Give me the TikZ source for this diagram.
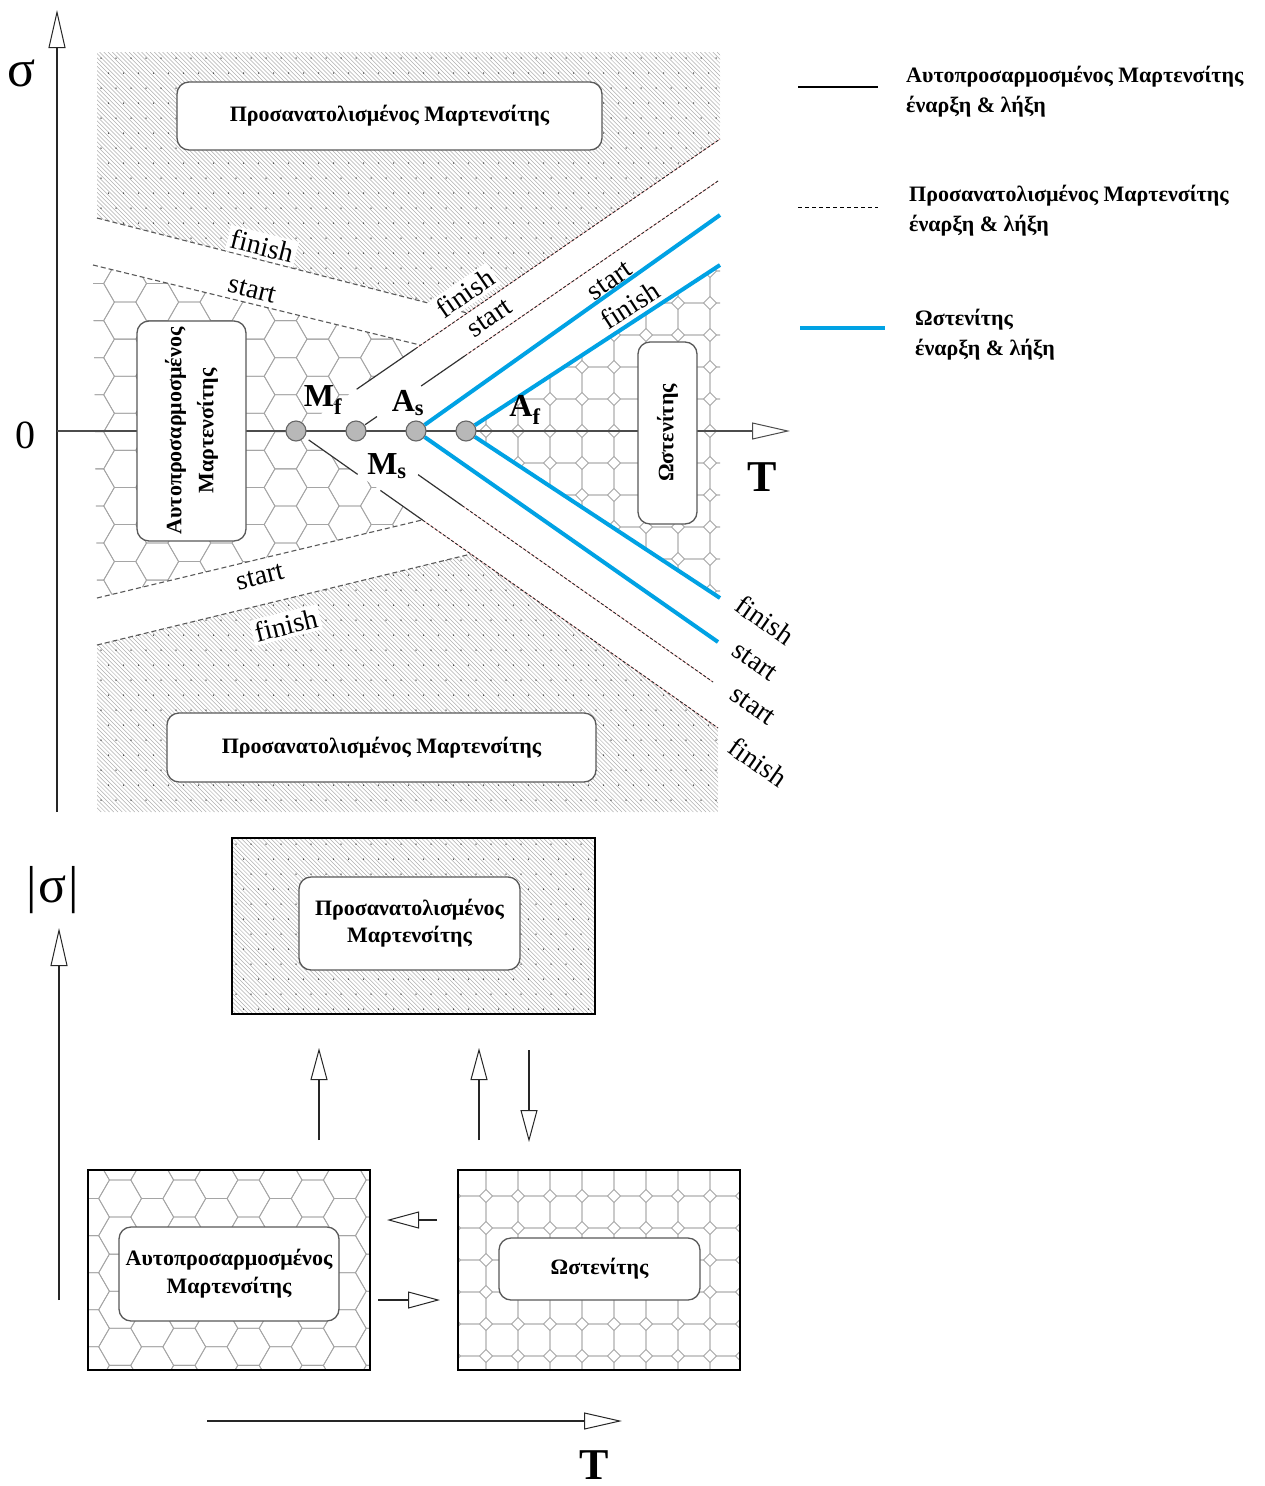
\documentclass[tikz,border=0pt]{standalone}
\usepackage{fontspec}
\setmainfont{Liberation Serif}
\usetikzlibrary{arrows.meta,calc}

\definecolor{austblue}{RGB}{0,162,228}
\definecolor{cellgray}{RGB}{165,165,165}
\definecolor{hatchgray}{RGB}{175,175,175}

% diagonal hatching with a grid of dots (oriented martensite texture)
\newcommand\hatchdots[4]{% x0, y0, width, height
  \pgfmathtruncatemacro\hdn{(#3+#4)/4.2+1}%
  \foreach \k in {0,...,\hdn}{%
    \draw[hatchline] ({#1-#4+4.2*\k},#2) -- ++(#4,#4);
  }%
  \pgfmathtruncatemacro\hdi{#3/15+1}%
  \pgfmathtruncatemacro\hdj{#4/15+1}%
  \foreach \j in {0,...,\hdj}{%
    \foreach \i in {0,...,\hdi}{%
      \fill[black!80] ({#1+4+15*\i+7.5*mod(\j,2)},{#2+6+15*\j}) circle[radius=0.75pt];
    }%
  }%
}

% honeycomb of flat-topped hexagons (twinned martensite texture)
\newcommand\honeycomb[4]{% x0, y0, width, height
  \pgfmathtruncatemacro\hci{#3/32.1+2}%
  \pgfmathtruncatemacro\hcj{#4/37.07+2}%
  \foreach \i in {-1,...,\hci}{%
    \foreach \j in {-1,...,\hcj}{%
      \pgfmathsetmacro\cx{#1+32.1*\i}%
      \pgfmathsetmacro\cy{#2+37.07*\j+18.53*mod(\i,2)}%
      \draw[cellline] (\cx+21.4,\cy) -- (\cx+10.7,\cy+18.53) -- (\cx-10.7,\cy+18.53)
        -- (\cx-21.4,\cy) -- (\cx-10.7,\cy-18.53) -- (\cx+10.7,\cy-18.53) -- cycle;
    }%
  }%
}

% rounded octagons with small diamonds between them (austenite texture)
\newcommand\octagons[4]{% x0, y0, width, height
  \pgfmathtruncatemacro\oci{#3/32+2}%
  \pgfmathtruncatemacro\ocj{#4/32+2}%
  \foreach \i in {-1,...,\oci}{%
    \foreach \j in {-1,...,\ocj}{%
      \pgfmathsetmacro\cx{#1+32*\i}%
      \pgfmathsetmacro\cy{#2+32*\j}%
      \draw[cellline] (\cx+9.5,\cy-16) -- (\cx+16,\cy-9.5) -- (\cx+16,\cy+9.5)
        -- (\cx+9.5,\cy+16) -- (\cx-9.5,\cy+16) -- (\cx-16,\cy+9.5)
        -- (\cx-16,\cy-9.5) -- (\cx-9.5,\cy-16) -- cycle;
    }%
  }%
}

\tikzset{
  hatchline/.style={draw=hatchgray, line width=0.5pt},
  cellline/.style={draw=cellgray, line width=0.8pt},
  bandline/.style={draw=black!65, line width=1.1pt, dash pattern=on 5pt off 3pt},
  solidline/.style={draw=black!80, line width=1.2pt},
  dashline/.style={draw=black!85, line width=0.9pt, dash pattern=on 3pt off 2pt},
  pinkline/.style={draw=red!40, line width=0.5pt},
  blueline/.style={draw=austblue, line width=4pt},
  phase/.style={draw=black!65, line width=1.3pt, rounded corners=12pt, fill=white,
    align=center, inner sep=0pt, outer sep=0pt, font=\bfseries\fontsize{22}{27}\selectfont},
  frame/.style={draw=black, line width=1.5pt, inner sep=0pt, outer sep=0pt},
  tempdot/.style={circle, draw=black!60, fill=black!28, line width=1.1pt,
    minimum size=20pt, inner sep=0pt},
  curvelabel/.style={font=\fontsize{28}{28}\selectfont, inner sep=1pt},
  whitelabel/.style={curvelabel, fill=white, inner sep=3pt},
  templabel/.style={font=\bfseries\fontsize{32}{32}\selectfont, inner sep=0pt},
  axisarrow/.style={-{Triangle[open, length=38pt, width=17pt, line width=1pt]}, line width=1.6pt},
  steparrow/.style={-{Triangle[open, length=32pt, width=17pt, line width=1pt]}, line width=1.6pt, draw=black!85},
  legendtext/.style={font=\bfseries\fontsize{22}{30}\selectfont, align=left, anchor=west, inner sep=0pt},
}

\begin{document}
\begin{tikzpicture}[x=1pt, y=-1pt]
\fill[white] (0,0) rectangle (1264,1486);
\path[use as bounding box] (0,0) rectangle (1264,1486);

% ---------- stress-temperature phase diagram ----------
\coordinate (sigbot) at (57,812);
\coordinate (sigtop) at (57,10);
\coordinate (Tleft) at (57,431);
\coordinate (Tright) at (790,431);

% far ends of the transformation lines
\coordinate (U1) at (720,139);   % martensite finish, tension
\coordinate (U2) at (718,181);   % martensite start, tension
\coordinate (L1) at (718,728);   % martensite finish, compression
\coordinate (L2) at (713,682);   % martensite start, compression
\coordinate (BU1) at (720,215);  % austenite start, tension
\coordinate (BU2) at (720,265);  % austenite finish, tension
\coordinate (BL1) at (718,642);  % austenite start, compression
\coordinate (BL2) at (720,598);  % austenite finish, compression

% boundaries of the detwinning bands
\coordinate (bf1a) at (97,218);  \coordinate (bf1b) at (467,313);
\coordinate (bs1a) at (93,265);  \coordinate (bs1b) at (420,345);
\coordinate (bs2a) at (97,598);  \coordinate (bs2b) at (422,520);
\coordinate (bf2a) at (97,645);  \coordinate (bf2b) at (471,554);

% oriented martensite, tension side
\begin{scope}
  \clip (97,52) -- (720,52) -- (U1) -- (bf1b) -- (bf1a) -- cycle;
  \hatchdots{97}{52}{623}{262}
\end{scope}
% oriented martensite, compression side
\begin{scope}
  \clip (bf2a) -- (bf2b) -- (L1) -- (718,812) -- (97,812) -- cycle;
  \hatchdots{97}{554}{621}{258}
\end{scope}
% twinned martensite
\begin{scope}
  \clip (bs1a) -- (bs1b) -- (296,431) -- (bs2b) -- (bs2a) -- cycle;
  \honeycomb{93}{265}{330}{335}
\end{scope}
% austenite
\begin{scope}
  \clip (466,431) -- (BU2) -- (BL2) -- cycle;
  \octagons{470}{255}{254}{350}
\end{scope}

% band boundaries
\draw[bandline] (bf1a) -- (bf1b);
\draw[bandline] (bs1a) -- (bs1b);
\draw[bandline] (bs2a) -- (bs2b);
\draw[bandline] (bf2a) -- (bf2b);

% axes
\draw[axisarrow, draw=black!85] (sigbot) -- (sigtop);
\draw[axisarrow, draw=black!70] (Tleft) -- (Tright);

% transformation temperatures
\node[tempdot] (Mf) at (296,431) {};
\node[tempdot] (Ms) at (356,431) {};
\node[tempdot] (As) at (416,431) {};
\node[tempdot] (Af) at (466,431) {};

% martensite lines (solid near the axis, dashed further out)
\draw[solidline] ($(Mf)!0.143!(U1)$) -- ($(Mf)!0.281!(U1)$);
\draw[pinkline] ($(Mf)!0.281!(U1)$) -- (U1);
\draw[dashline] ($(Mf)!0.281!(U1)$) -- (U1);

\draw[solidline] ($(Ms)!0.025!(U2)$) -- ($(Ms)!0.058!(U2)$);
\draw[solidline] ($(Ms)!0.18!(U2)$) -- ($(Ms)!0.30!(U2)$);
\draw[pinkline] ($(Ms)!0.30!(U2)$) -- (U2);
\draw[dashline] ($(Ms)!0.30!(U2)$) -- (U2);

\draw[solidline] ($(Mf)!0.03!(L1)$) -- ($(Mf)!0.146!(L1)$);
\draw[solidline] ($(Mf)!0.2!(L1)$) -- ($(Mf)!0.3!(L1)$);
\draw[pinkline] ($(Mf)!0.3!(L1)$) -- (L1);
\draw[dashline] ($(Mf)!0.3!(L1)$) -- (L1);

\draw[solidline] ($(Ms)!0.174!(L2)$) -- ($(Ms)!0.297!(L2)$);
\draw[pinkline] ($(Ms)!0.297!(L2)$) -- (L2);
\draw[dashline] ($(Ms)!0.297!(L2)$) -- (L2);

% austenite lines
\draw[blueline] (As) -- (BU1);
\draw[blueline] (Af) -- (BU2);
\draw[blueline] (As) -- (BL1);
\draw[blueline] (Af) -- (BL2);

% phase boxes
\node[phase, minimum width=425pt, minimum height=68pt] (omtop) at (389.5,116) {Προσανατολισμένος Μαρτενσίτης};
\node[phase, minimum width=429pt, minimum height=69pt] (ombot) at (381.5,747.5) {Προσανατολισμένος Μαρτενσίτης};
\node[phase, rotate=90, minimum width=220pt, minimum height=109pt,
  font=\bfseries\fontsize{22}{32}\selectfont] (tmbox) at (191.5,431) {Αυτοπροσαρμοσμένος\\Μαρτενσίτης};
\node[phase, rotate=90, minimum width=182pt, minimum height=59pt] (abox) at (667.5,433) {Ωστενίτης};

% labels of the transformation temperatures
\node[templabel] (lMf) at (323,400) {M\textsubscript{f}};
\node[templabel] (lAs) at (408,403) {A\textsubscript{s}};
\node[templabel] (lAf) at (525,410) {A\textsubscript{f}};
\node[templabel] (lMs) at (387,466) {M\textsubscript{s}};

% line labels
\node[whitelabel, rotate=-14] (lbf1) at (262,246) {finish};
\node[curvelabel, rotate=-14] (lbs1) at (252,290) {start};
\node[curvelabel, rotate=14] (lbs2) at (260,577) {start};
\node[whitelabel, rotate=14] (lbf2) at (286,625) {finish};
\node[whitelabel, rotate=34.5] (ldf1) at (465,293) {finish};
\node[curvelabel, rotate=34.5] (lds1) at (490,318) {start};
\node[curvelabel, rotate=35] (lbs3) at (610,281) {start};
\node[curvelabel, rotate=33] (lbf3) at (630,305) {finish};
\node[curvelabel, rotate=-35] (rf1) at (765,620) {finish};
\node[curvelabel, rotate=-35] (rs1) at (755,662) {start};
\node[curvelabel, rotate=-35] (rs2) at (753,706) {start};
\node[curvelabel, rotate=-35] (rf2) at (758,762) {finish};

% axis labels
\node[font=\fontsize{52}{52}\selectfont, inner sep=0pt] (sig) at (22,73) {σ};
\node[font=\fontsize{40}{40}\selectfont, inner sep=0pt] (zero) at (25,435) {0};
\node[font=\bfseries\fontsize{44}{44}\selectfont, inner sep=0pt] (Tlab) at (762,477) {T};

% ---------- legend ----------
\coordinate (k1a) at (798,87);  \coordinate (k1b) at (878,87);
\coordinate (k2a) at (798,207); \coordinate (k2b) at (878,207);
\coordinate (k3a) at (800,328); \coordinate (k3b) at (885,328);
\draw[draw=black, line width=1.6pt] (k1a) -- (k1b);
\draw[draw=black, line width=1pt, dash pattern=on 4pt off 3pt] (k2a) -- (k2b);
\draw[draw=austblue, line width=4.5pt] (k3a) -- (k3b);
\node[legendtext] (t1) at (906,91.5) {Αυτοπροσαρμοσμένος Μαρτενσίτης\\έναρξη \& λήξη};
\node[legendtext] (t2) at (909,210.5) {Προσανατολισμένος Μαρτενσίτης\\έναρξη \& λήξη};
\node[legendtext] (t3) at (915,334.5) {Ωστενίτης\\έναρξη \& λήξη};

% ---------- phase transition scheme ----------
\begin{scope}
  \clip (232,838) rectangle (595,1014);
  \hatchdots{232}{838}{363}{176}
\end{scope}
\begin{scope}
  \clip (88,1170) rectangle (370,1370);
  \honeycomb{88}{1180}{282}{200}
\end{scope}
\begin{scope}
  \clip (458,1170) rectangle (740,1370);
  \octagons{470}{1180}{282}{200}
\end{scope}

\node[frame, minimum width=363pt, minimum height=176pt] (omframe) at (413.5,926) {};
\node[frame, minimum width=282pt, minimum height=200pt] (tmframe) at (229,1270) {};
\node[frame, minimum width=282pt, minimum height=200pt] (aframe) at (599,1270) {};

\node[phase, minimum width=221pt, minimum height=93pt] (ominner) at (409.5,923.5) {Προσανατολισμένος\\Μαρτενσίτης};
\node[phase, minimum width=220pt, minimum height=94pt,
  font=\bfseries\fontsize{22}{28}\selectfont] (tminner) at (229,1274) {Αυτοπροσαρμοσμένος\\Μαρτενσίτης};
\node[phase, minimum width=201pt, minimum height=62pt] (ainner) at (599.5,1269) {Ωστενίτης};

% transition arrows
\coordinate (p1a) at (319,1140); \coordinate (p1b) at (319,1048);
\coordinate (p2a) at (479,1140); \coordinate (p2b) at (479,1048);
\coordinate (p3a) at (529,1050); \coordinate (p3b) at (529,1142);
\coordinate (p4a) at (437,1220); \coordinate (p4b) at (387,1220);
\coordinate (p5a) at (378,1300); \coordinate (p5b) at (440,1300);
\draw[steparrow] (p1a) -- (p1b);
\draw[steparrow] (p2a) -- (p2b);
\draw[steparrow] (p3a) -- (p3b);
\draw[steparrow] (p4a) -- (p4b);
\draw[steparrow] (p5a) -- (p5b);

% axes of the scheme
\coordinate (ssbot) at (59,1300); \coordinate (sstop) at (59,928);
\coordinate (stl) at (207,1421);  \coordinate (str) at (622,1421);
\draw[axisarrow, draw=black!85] (ssbot) -- (sstop);
\draw[axisarrow, draw=black!85] (stl) -- (str);
\node[font=\fontsize{52}{52}\selectfont, inner sep=0pt] (abssig) at (53,890) {|\kern2pt σ\kern2pt|};
\node[font=\bfseries\fontsize{44}{44}\selectfont, inner sep=0pt] (Tlab2) at (594,1465) {T};
\end{tikzpicture}
\end{document}
